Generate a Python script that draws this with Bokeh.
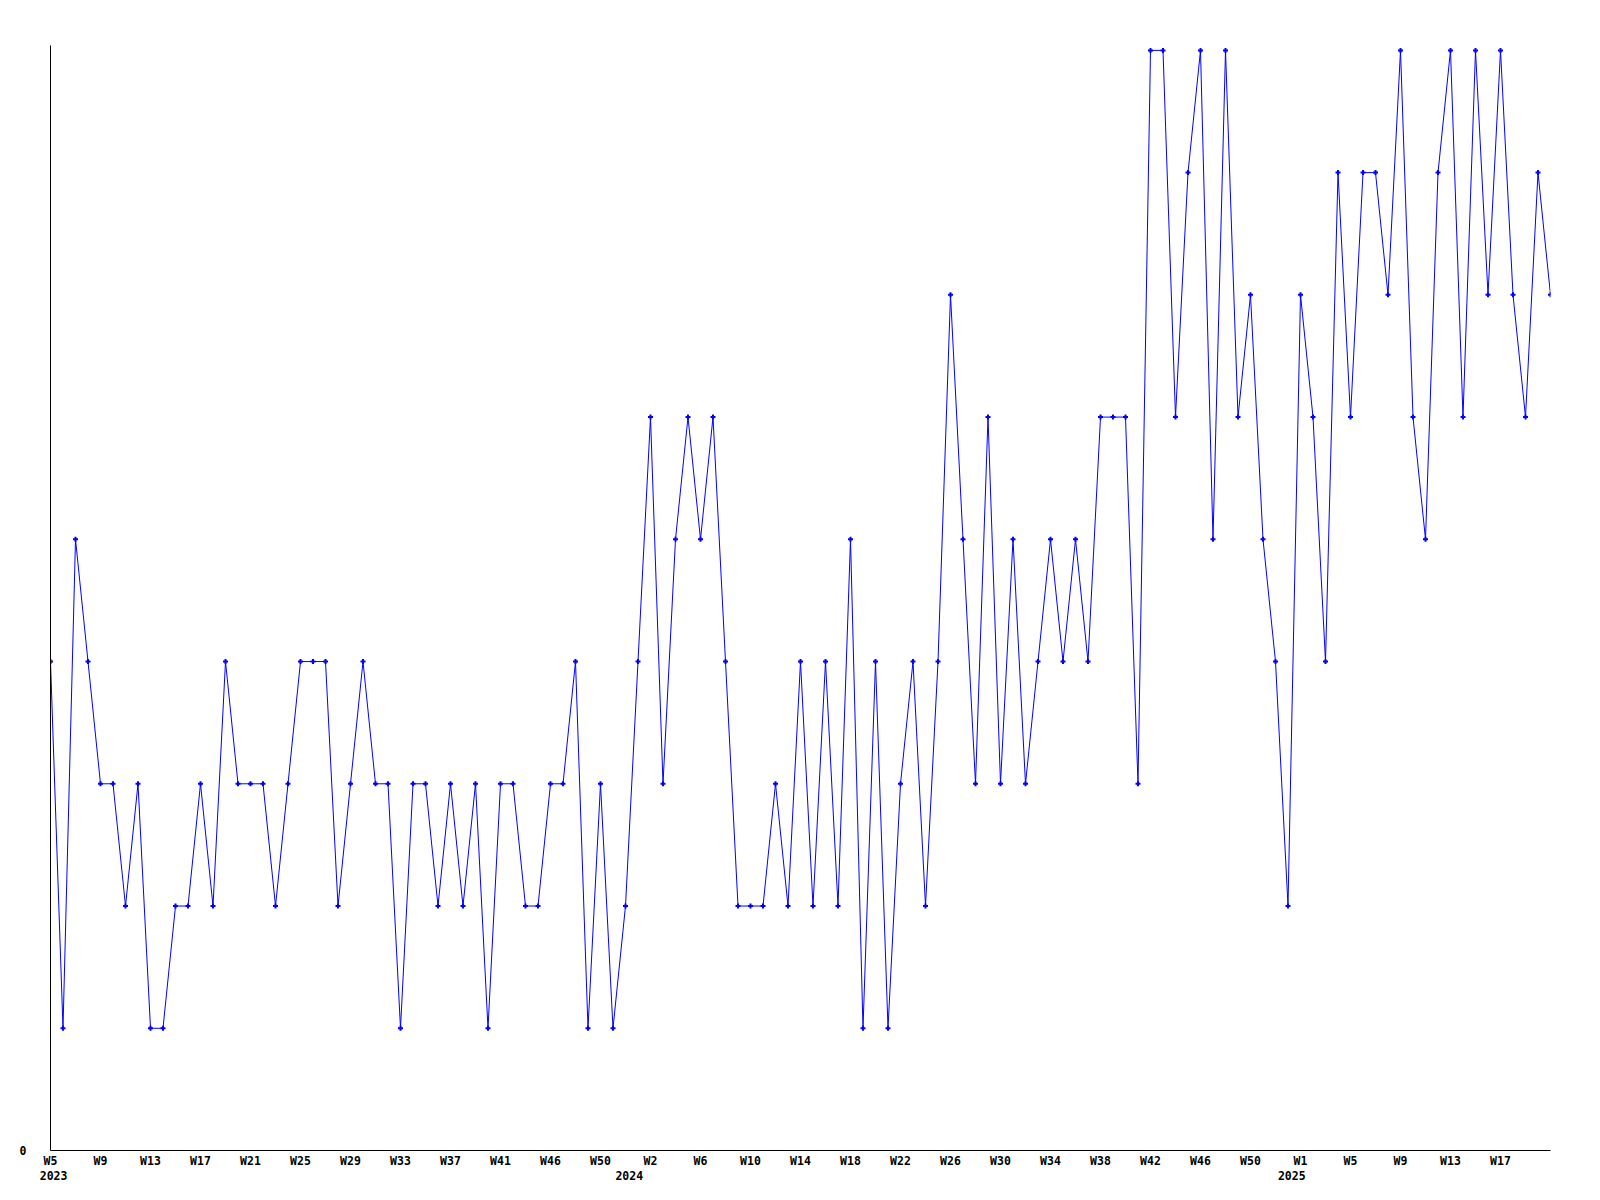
from bokeh.plotting import figure
from bokeh.models import FixedTicker, CustomJSTickFormatter, LinearAxis, Range1d
from bokeh.embed import file_html
from bokeh.resources import INLINE

# weekly values, W5 2023 .. W21 2025 (one per week)
values = [
    4, 1, 5, 4, 3, 3, 2, 3, 1, 1,
    2, 2, 3, 2, 4, 3, 3, 3, 2, 3,
    4, 4, 4, 2, 3, 4, 3, 3, 1, 3,
    3, 2, 3, 2, 3, 1, 3, 3, 2, 2,
    3, 3, 4, 1, 3, 1, 2, 4, 6, 3,
    5, 6, 5, 6, 4, 2, 2, 2, 3, 2,
    4, 2, 4, 2, 5, 1, 4, 1, 3, 4,
    2, 4, 7, 5, 3, 6, 3, 5, 3, 4,
    5, 4, 5, 4, 6, 6, 6, 3, 9, 9,
    6, 8, 9, 5, 9, 6, 7, 5, 4, 2,
    7, 6, 4, 8, 6, 8, 8, 7, 9, 6,
    5, 8, 9, 6, 9, 7, 9, 7, 6, 8, 7,
]
weeks = list(range(len(values)))

# x-axis tick labels (every 4th week)
week_ticks = list(range(0, 120, 4))
week_labels = ["W5", "W9", "W13", "W17", "W21", "W25", "W29", "W33", "W37", "W41",
               "W46", "W50", "W2", "W6", "W10", "W14", "W18", "W22", "W26", "W30",
               "W34", "W38", "W42", "W46", "W50", "W1", "W5", "W9", "W13", "W17"]
year_ticks = [0.25, 46.3, 99.3]
year_labels = ["2023", "2024", "2025"]
y_ticks = [0]
y_labels = ["0"]

FONT = "DejaVu Sans Mono"
FSIZE = "11.5px"

p = figure(frame_width=1500, frame_height=1105,
           min_border_left=50, min_border_top=45, min_border_right=20, min_border_bottom=30,
           x_range=Range1d(0, 120), y_range=Range1d(0, 9.04),
           output_backend="svg", toolbar_location=None,
           background_fill_color="white", border_fill_color="white")
p.outline_line_color = None
p.xgrid.visible = False
p.ygrid.visible = False

def style_axis(ax, standoff):
    ax.axis_line_color = "black"
    ax.axis_line_width = 1
    ax.major_tick_line_color = None
    ax.minor_tick_line_color = None
    ax.major_tick_out = 0
    ax.major_tick_in = 0
    ax.major_label_standoff = standoff
    ax.major_label_text_font = FONT
    ax.major_label_text_font_style = "bold"
    ax.major_label_text_font_size = FSIZE
    ax.major_label_text_color = "black"

xa = p.xaxis[0]
xa.ticker = FixedTicker(ticks=week_ticks)
xa.formatter = CustomJSTickFormatter(args=dict(labels=week_labels),
                                     code="return labels[index] ?? ''")
style_axis(xa, 3)

ya = p.yaxis[0]
ya.ticker = FixedTicker(ticks=y_ticks)
ya.formatter = CustomJSTickFormatter(args=dict(labels=y_labels),
                                     code="return labels[index] ?? ''")
style_axis(ya, 24)

yr = LinearAxis(ticker=FixedTicker(ticks=year_ticks),
                formatter=CustomJSTickFormatter(args=dict(labels=year_labels),
                                                code="return labels[index] ?? ''"))
style_axis(yr, 0)
yr.axis_line_color = None
p.add_layout(yr, "below")

p.line(weeks, values, line_color="#0000ff", line_width=1)
p.scatter(weeks, values, marker="cross", size=5, line_width=2, line_color="#0000ff")

open("out.html", "w").write(file_html(p, INLINE))
